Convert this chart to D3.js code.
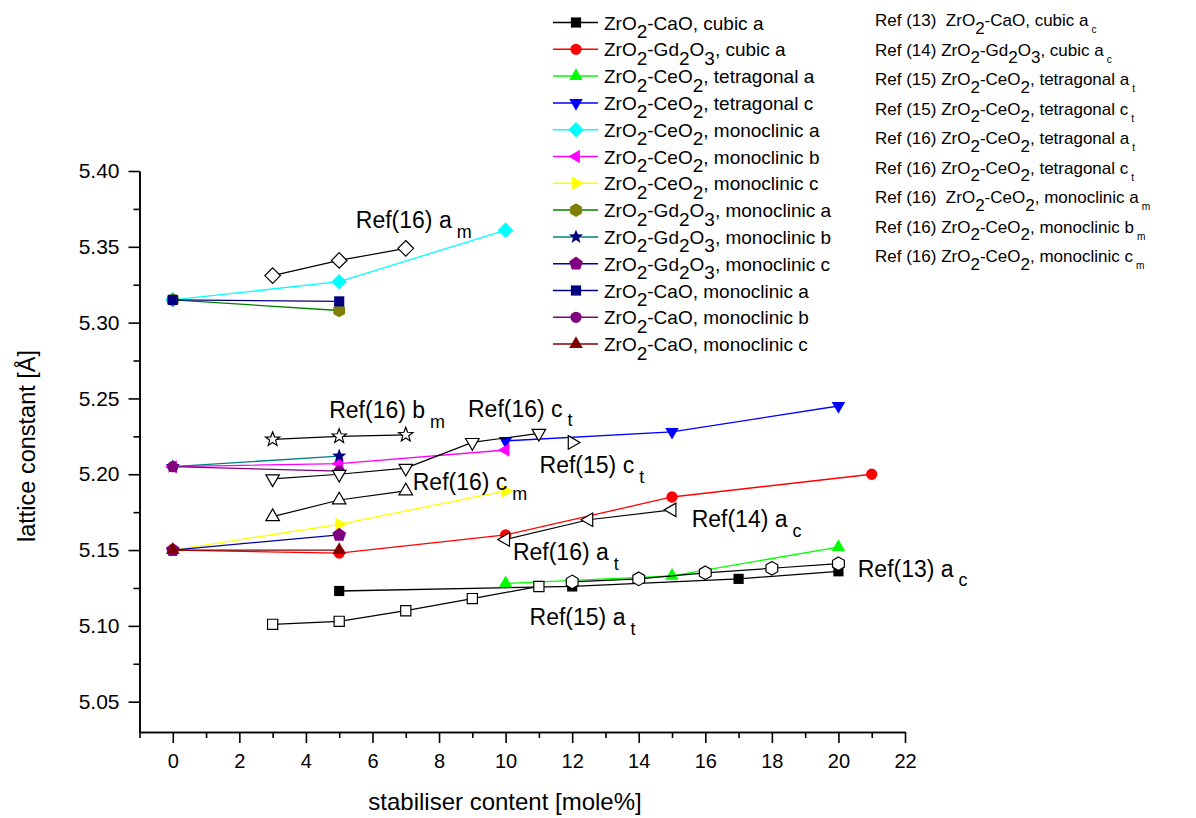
<!DOCTYPE html>
<html>
<head>
<meta charset="utf-8">
<script src="https://cdn.jsdelivr.net/npm/d3@7"></script>
<style>
  body { margin: 0; background: #fff; }
  svg text { font-family: Arial, "Liberation Sans", sans-serif; white-space: pre; fill: #000; }
</style>
</head>
<body>
<svg id="chart" width="1196" height="818"></svg>
<script>
// 1] data --------------------------------------------------//
// [stabiliser mole%, lattice constant A]
const caoCubicA    = [[5, 5.123], [12, 5.126], [17, 5.131], [20, 5.136]];
const gdCubicA     = [[0, 5.150], [5, 5.148], [10, 5.160], [15, 5.185], [21, 5.200]];
const ceTetraA     = [[10, 5.128], [15, 5.133], [20, 5.152]];
const ceTetraC     = [[10, 5.222], [15, 5.228], [20, 5.245]];
const ceMonoA      = [[0, 5.315], [5, 5.327], [10, 5.361]];
const ceMonoB      = [[0, 5.205], [5, 5.207], [10, 5.216]];
const ceMonoC      = [[0, 5.150], [5, 5.167], [10, 5.189]];
const gdMonoA      = [[0, 5.315], [5, 5.308]];
const gdMonoB      = [[0, 5.205], [5, 5.212]];
const gdMonoC      = [[0, 5.150], [5, 5.160]];
const caoMonoA     = [[0, 5.315], [5, 5.314]];
const caoMonoB     = [[0, 5.205], [5, 5.202]];
const caoMonoC     = [[0, 5.150], [5, 5.150]];

// literature values (open symbols)
const ref13CubicA  = [[12, 5.129], [14, 5.131], [16, 5.135], [18, 5.138], [20, 5.141]];
const ref14CubicA  = [[10, 5.157], [12.5, 5.170], [15, 5.1765]];
const ref15TetraA  = [[3, 5.101], [5, 5.103], [7, 5.110], [9, 5.118], [11, 5.126]];
const ref15TetraC  = [[12, 5.221]];
const ref16TetraC  = [[3, 5.197], [5, 5.200], [7, 5.204], [9, 5.221], [11, 5.227]];
const ref16MonoA   = [[3, 5.331], [5, 5.341], [7, 5.349]];
const ref16MonoB   = [[3, 5.223], [5, 5.225], [7, 5.226]];
const ref16MonoC   = [[3, 5.172], [5, 5.183], [7, 5.189]];

const legendLabels = [
  "ZrO{2}-CaO, cubic a",
  "ZrO{2}-Gd{2}O{3}, cubic a",
  "ZrO{2}-CeO{2}, tetragonal a",
  "ZrO{2}-CeO{2}, tetragonal c",
  "ZrO{2}-CeO{2}, monoclinic a",
  "ZrO{2}-CeO{2}, monoclinic b",
  "ZrO{2}-CeO{2}, monoclinic c",
  "ZrO{2}-Gd{2}O{3}, monoclinic a",
  "ZrO{2}-Gd{2}O{3}, monoclinic b",
  "ZrO{2}-Gd{2}O{3}, monoclinic c",
  "ZrO{2}-CaO, monoclinic a",
  "ZrO{2}-CaO, monoclinic b",
  "ZrO{2}-CaO, monoclinic c"
];
const refLegendLabels = [
  "Ref (13)  ZrO{2}-CaO, cubic a<c>",
  "Ref (14) ZrO{2}-Gd{2}O{3}, cubic a<c>",
  "Ref (15) ZrO{2}-CeO{2}, tetragonal a<t>",
  "Ref (15) ZrO{2}-CeO{2}, tetragonal c<t>",
  "Ref (16) ZrO{2}-CeO{2}, tetragonal a<t>",
  "Ref (16) ZrO{2}-CeO{2}, tetragonal c<t>",
  "Ref (16)  ZrO{2}-CeO{2}, monoclinic a<m>",
  "Ref (16) ZrO{2}-CeO{2}, monoclinic b<m>",
  "Ref (16) ZrO{2}-CeO{2}, monoclinic c<m>"
];
// in-plot notes: [x, y, text]
const notes = [
  [5.5, 5.3624, "Ref(16) a<m>"],
  [4.7, 5.2369, "Ref(16) b<m>"],
  [8.87, 5.2380, "Ref(16) c<t>"],
  [11.02, 5.2007, "Ref(15) c<t>"],
  [7.21, 5.1896, "Ref(16) c<m>"],
  [15.59, 5.1650, "Ref(14) a<c>"],
  [10.22, 5.1435, "Ref(16) a<t>"],
  [20.58, 5.1325, "Ref(13) a<c>"],
  [10.72, 5.1006, "Ref(15) a<t>"]
];
const yMajorTicks = [5.05, 5.10, 5.15, 5.20, 5.25, 5.30, 5.35, 5.40];
const yMinorTicks = [5.075, 5.125, 5.175, 5.225, 5.275, 5.325, 5.375];
const xMajorTicks = [0, 2, 4, 6, 8, 10, 12, 14, 16, 18, 20, 22];
const xMinorTicks = [-1, 1, 3, 5, 7, 9, 11, 13, 15, 17, 19, 21];

// 2] styles ------------------------------------------------//
const filled = [
  { data: caoCubicA, line: "#000000", fill: "#000000", shape: "square" },
  { data: gdCubicA,  line: "#ff0000", fill: "#ff0000", shape: "circle" },
  { data: ceTetraA,  line: "#00ff00", fill: "#00ff00", shape: "up" },
  { data: ceTetraC,  line: "#0000ff", fill: "#0000ff", shape: "down" },
  { data: ceMonoA,   line: "#00ffff", fill: "#00ffff", shape: "diamond" },
  { data: ceMonoB,   line: "#ff00ff", fill: "#ff00ff", shape: "left" },
  { data: ceMonoC,   line: "#ffff00", fill: "#ffff00", shape: "right" },
  { data: gdMonoA,   line: "#008000", fill: "#808000", shape: "hexagon" },
  { data: gdMonoB,   line: "#008080", fill: "#000080", shape: "star" },
  { data: gdMonoC,   line: "#0000a0", fill: "#800080", shape: "pentagon" },
  { data: caoMonoA,  line: "#000080", fill: "#000080", shape: "square" },
  { data: caoMonoB,  line: "#800080", fill: "#800080", shape: "circle" },
  { data: caoMonoC,  line: "#800000", fill: "#800000", shape: "up" }
];
const open = [
  { data: ref13CubicA, shape: "hexagon" },
  { data: ref14CubicA, shape: "left" },
  { data: ref15TetraA, shape: "square" },
  { data: ref15TetraC, shape: "right" },
  { data: ref16TetraC, shape: "down" },
  { data: ref16MonoA,  shape: "diamond" },
  { data: ref16MonoB,  shape: "star" },
  { data: ref16MonoC,  shape: "up" }
];

// 3] scales ------------------------------------------------//
const svg = d3.select("#chart");
const xScale = d3.scaleLinear().domain([-1, 22]).range([139.5, 905]);
const yScale = d3.scaleLinear().domain([5.03, 5.40]).range([732, 171]);

// marker paths
function poly(n, r, rot) {
  const pts = d3.range(n).map(i => {
    const a = (rot + i * 360 / n) * Math.PI / 180;
    return [r * Math.sin(a), -r * Math.cos(a)];
  });
  return "M" + pts.map(p => p.join(",")).join("L") + "Z";
}
function starPath(r) {
  const pts = d3.range(10).map(i => {
    const a = i * 36 * Math.PI / 180, rr = i % 2 ? r * 0.42 : r;
    return [rr * Math.sin(a), -rr * Math.cos(a)];
  });
  return "M" + pts.map(p => p.join(",")).join("L") + "Z";
}
function shapePath(shape) {
  switch (shape) {
    case "square":   return poly(4, 7.2, 45);
    case "circle":   return d3.symbol(d3.symbolCircle, 100)();
    case "up":       return poly(3, 7.8, 0);
    case "down":     return poly(3, 7.8, 180);
    case "left":     return poly(3, 7.8, 270);
    case "right":    return poly(3, 7.8, 90);
    case "diamond":  return poly(4, 7.8, 0);
    case "hexagon":  return poly(6, 6.8, 0);
    case "pentagon": return poly(5, 7.2, 0);
    case "star":     return starPath(7.5);
  }
}

// rich text: {x} = subscript digit, <x> = smaller subscript
function richText(sel, str, size, subScale, subGap) {
  const parts = str.split(/(\{[^}]*\}|<[^>]*>)/).filter(s => s.length);
  let shift = 0;
  parts.forEach(p => {
    let target = 0, txt = p, fs = null, dx = 0;
    if (p[0] === "{") { txt = p.slice(1, -1); target = 0.45 * size; }
    else if (p[0] === "<") { txt = p.slice(1, -1); target = 0.42 * size; fs = subScale * size; dx = subGap; }
    const t = sel.append("tspan").attr("dy", target - shift).attr("dx", dx).text(txt);
    if (fs) t.attr("font-size", fs);
    shift = target;
  });
}

// 4] axes --------------------------------------------------//
const axisStyle = size => g => {
  g.selectAll("path, line").attr("stroke", "#000").attr("stroke-width", 1.6);
  g.selectAll("text").attr("font-size", size).attr("font-family", "Arial, 'Liberation Sans', sans-serif");
};
svg.append("g").attr("transform", "translate(139.5,0)")
  .call(d3.axisLeft(yScale).tickValues(yMinorTicks).tickSize(6).tickFormat("").tickSizeOuter(0))
  .call(axisStyle(21));
svg.append("g").attr("transform", "translate(139.5,0)")
  .call(d3.axisLeft(yScale).tickValues(yMajorTicks).tickSize(11).tickPadding(9)
    .tickFormat(d3.format(".2f")).tickSizeOuter(0))
  .call(axisStyle(21));
svg.append("g").attr("transform", "translate(0,732)")
  .call(d3.axisBottom(xScale).tickValues(xMinorTicks).tickSize(6).tickFormat("").tickSizeOuter(0))
  .call(axisStyle(20));
svg.append("g").attr("transform", "translate(0,732)")
  .call(d3.axisBottom(xScale).tickValues(xMajorTicks).tickSize(11).tickPadding(11).tickSizeOuter(0))
  .call(axisStyle(20));

svg.append("text").attr("transform", "translate(35,446) rotate(-90)")
  .attr("text-anchor", "middle").attr("font-size", 23.5).text("lattice constant [Å]");
svg.append("text").attr("x", 505).attr("y", 810)
  .attr("text-anchor", "middle").attr("font-size", 24).text("stabiliser content [mole%]");

// 5] series ------------------------------------------------//
const line = d3.line().x(d => xScale(d[0])).y(d => yScale(d[1]));
const plot = svg.append("g");

filled.forEach(s => {
  plot.append("path").attr("d", line(s.data)).attr("fill", "none")
    .attr("stroke", s.line).attr("stroke-width", 1.3);
  plot.selectAll(null).data(s.data).enter().append("path")
    .attr("transform", d => `translate(${xScale(d[0])},${yScale(d[1])})`)
    .attr("d", shapePath(s.shape)).attr("fill", s.fill);
});
open.forEach(s => {
  plot.append("path").attr("d", line(s.data)).attr("fill", "none")
    .attr("stroke", "#000").attr("stroke-width", 1.2);
  plot.selectAll(null).data(s.data).enter().append("path")
    .attr("transform", d => `translate(${xScale(d[0])},${yScale(d[1])})`)
    .attr("d", shapePath(s.shape)).attr("fill", "#fff")
    .attr("stroke", "#000").attr("stroke-width", 1.2);
});

notes.forEach(n => {
  const t = svg.append("text").attr("x", xScale(n[0])).attr("y", yScale(n[1])).attr("font-size", 23);
  richText(t, n[2], 23, 0.78, 5);
});

// 6] legends -----------------------------------------------//
const leg = svg.append("g");
filled.forEach((s, i) => {
  const cy = 22.5 + i * 26.8;
  leg.append("line").attr("x1", 553).attr("x2", 598).attr("y1", cy).attr("y2", cy)
    .attr("stroke", s.line).attr("stroke-width", 1.5);
  leg.append("path").attr("transform", `translate(576,${cy})`)
    .attr("d", shapePath(s.shape)).attr("fill", s.fill);
  const t = leg.append("text").attr("x", 604).attr("y", cy + 7).attr("font-size", 19);
  richText(t, legendLabels[i], 19, 0.6, 2);
});
refLegendLabels.forEach((lab, i) => {
  const t = leg.append("text").attr("x", 875).attr("y", 26 + i * 29.5).attr("font-size", 17);
  richText(t, lab, 17, 0.6, 3);
});
</script>
</body>
</html>
